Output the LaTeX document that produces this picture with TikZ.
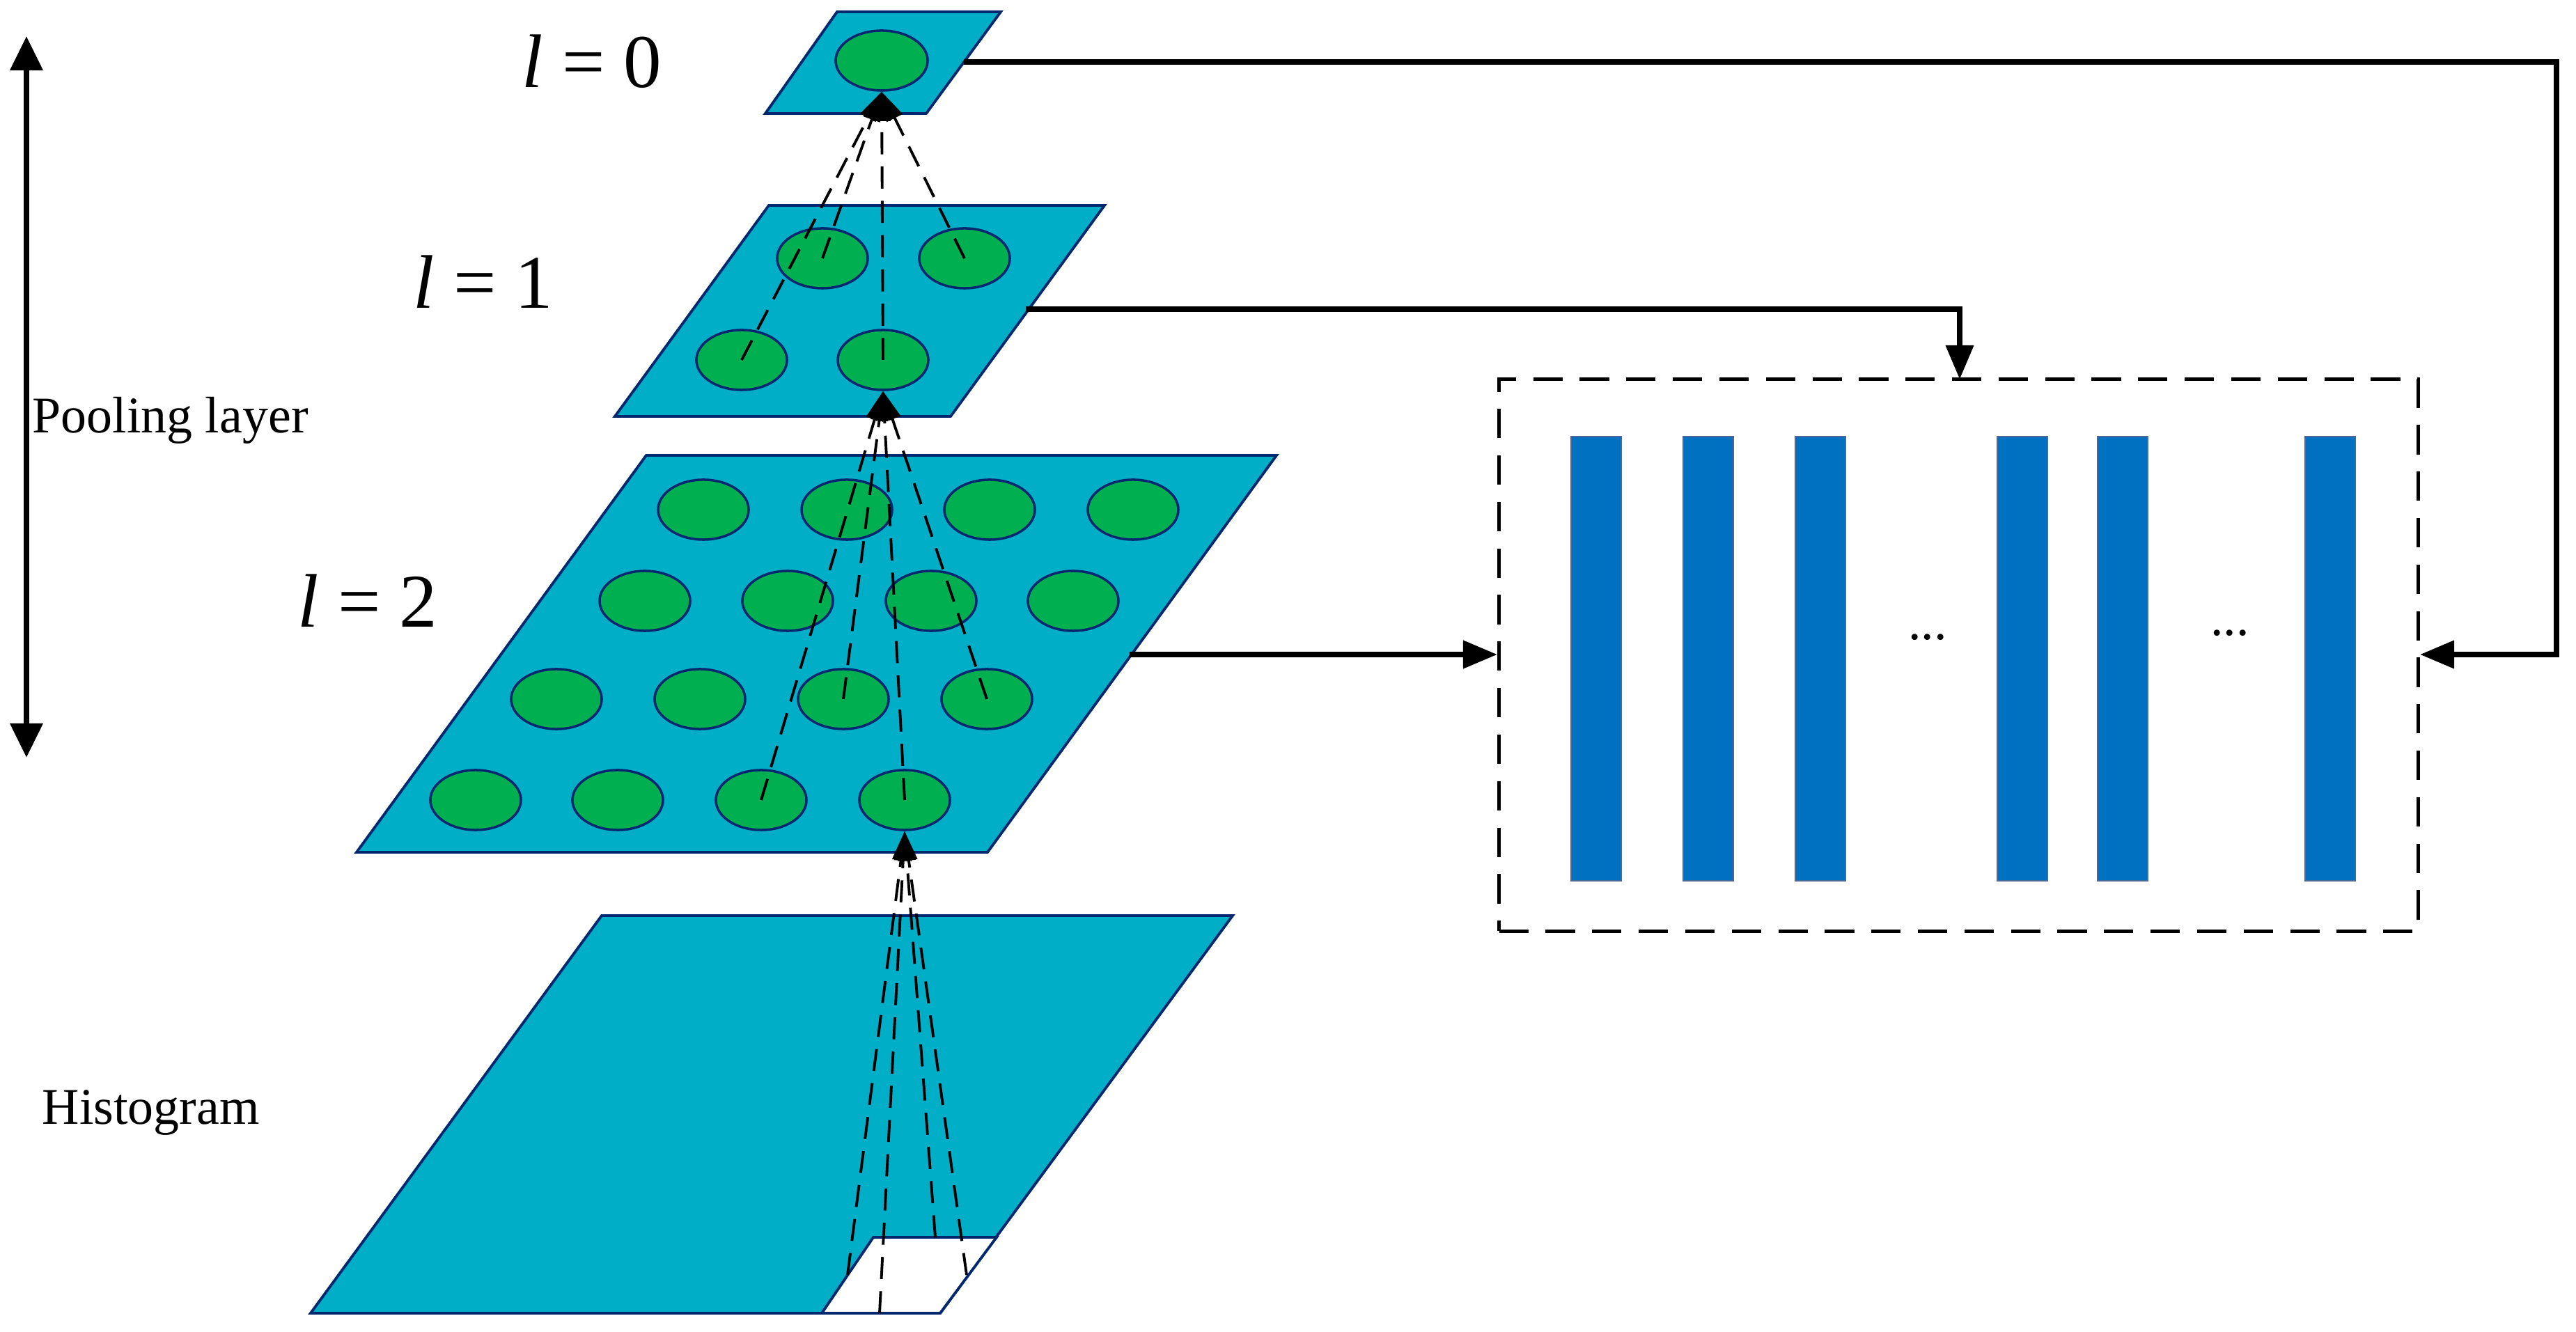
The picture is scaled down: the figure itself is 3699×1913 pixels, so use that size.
\documentclass[tikz,border=0pt]{standalone}
\usepackage{fontspec}
\setmainfont{Liberation Serif}
\usetikzlibrary{shapes.geometric,arrows.meta}
\definecolor{layer}{RGB}{0,174,199}
\definecolor{edge}{RGB}{0,40,110}
\definecolor{cell}{RGB}{0,176,80}
\definecolor{bar}{RGB}{0,112,192}
\tikzset{
  lay/.style={fill=layer,draw=edge,line width=1.1pt,line join=miter},
  cel/.style={ellipse,fill=cell,draw=edge,line width=1pt,minimum width=1.3cm,minimum height=0.86cm,inner sep=0pt},
  cel0/.style={cel,minimum width=1.32cm,minimum height=0.86cm},
  col/.style={rectangle,fill=bar,draw=edge!70,line width=0.5pt,minimum width=0.72cm,minimum height=6.37cm,inner sep=0pt},
  proj/.style={dash pattern=on 9pt off 5pt,line width=1.1pt,-{Triangle[length=12pt,width=7pt]}},
  conn/.style={line width=2.4pt,-{Triangle[length=14pt,width=11pt]}},
  lbl/.style={font=\fontsize{31}{36}\selectfont,inner sep=0pt},
  txt/.style={font=\fontsize{21}{25}\selectfont,inner sep=0pt,anchor=west},
}
\begin{document}
\begin{tikzpicture}[x=0.01cm,y=-0.01cm]
\useasboundingbox (0,0) rectangle (3699,1913);
% layers
\draw[lay] (864,1315) -- (1770,1315) -- (1350,1886) -- (446,1886) -- cycle;
\draw[edge,line width=1.1pt,fill=white] (1254,1777) -- (1431,1777) -- (1350,1886) -- (1180,1886) -- cycle;
\draw[lay] (928,654) -- (1833,654) -- (1418,1224) -- (512,1224) -- cycle;
\draw[lay] (1104,295) -- (1586,295) -- (1365,598) -- (883,598) -- cycle;
\draw[lay] (1202,17) -- (1437,17) -- (1330,163) -- (1099,163) -- cycle;
% cells
\node[cel0] (c0) at (1266,87) {};
\node[cel] (a1) at (1181,371) {};
\node[cel] (a2) at (1385,371) {};
\node[cel] (a3) at (1065,517) {};
\node[cel] (a4) at (1268,517) {};
\foreach \x [count=\i] in {1010,1216,1421,1627}{\node[cel] (r1\i) at (\x,732) {};}
\foreach \x [count=\i] in {926,1131,1337,1541}{\node[cel] (r2\i) at (\x,863) {};}
\foreach \x [count=\i] in {799,1005,1211,1417}{\node[cel] (r3\i) at (\x,1004) {};}
\foreach \x [count=\i] in {683,887,1093,1299}{\node[cel] (r4\i) at (\x,1149) {};}
% histogram patch points
\coordinate (h1) at (1217,1831);
\coordinate (h2) at (1263,1886);
\coordinate (h3) at (1343,1777);
\coordinate (h4) at (1388,1831);
% projections
\foreach \p in {h1,h2,h3,h4}{\draw[proj] (\p) -- (r44.south);}
\foreach \p in {r43,r33,r34,r44}{\draw[proj] (\p.center) -- (a4.south);}
\foreach \p in {a1,a2,a3,a4}{\draw[proj] (\p.center) -- (c0.south);}
% feature box
\node[draw,dash pattern=on 12pt off 7pt,line width=1.4pt,minimum width=13.19cm,minimum height=7.92cm,inner sep=0pt] (box) at (2812.5,941) {};
\foreach \x [count=\i] in {2292,2453,2614,2904,3048,3346}{\node[col] (b\i) at (\x,946) {};}
\node[font=\fontsize{21}{25}\selectfont] (d1) at (2768,915) {...};
\node[font=\fontsize{21}{25}\selectfont] (d2) at (3202,909) {...};
% connectors
\coordinate (o0) at (1384,89);
\coordinate (o1) at (1473,444);
\coordinate (o2) at (1622,940);
\draw[conn] (o0) -- (3671,89) -- (3671,940) -- (box.east |- 0,940);
\draw[conn] (o1) -- (2814,444) -- (2814,545);
\draw[conn] (o2) -- (box.west |- 0,940);
% labels
\node[lbl,anchor=west] (l0) at (749,88) {\textit{l} = 0};
\node[lbl,anchor=west] (l1) at (593,405) {\textit{l} = 1};
\node[lbl,anchor=west] (l2) at (427,863) {\textit{l} = 2};
\node[txt] (pool) at (46,604) {Pooling layer};
\node[txt] (hist) at (60,1598) {Histogram};
\coordinate (pt) at (38,52);
\coordinate (pb) at (38,1088);
\draw[line width=2.4pt,{Triangle[length=14pt,width=13pt]}-{Triangle[length=14pt,width=13pt]}] (pt) -- (pb);
\end{tikzpicture}
\end{document}
